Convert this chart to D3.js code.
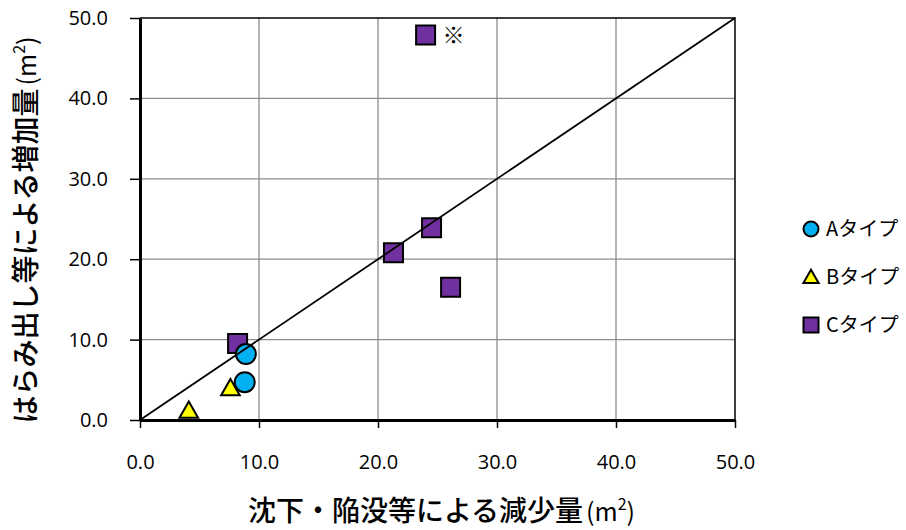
<!DOCTYPE html>
<html>
<head>
<meta charset="utf-8">
<script src="https://cdn.jsdelivr.net/npm/d3@7"></script>
<style>
  body { margin: 0; background: #fff; }
  .tick text { font-family: "Open Sans", sans-serif; font-size: 20px; fill: #000; }
  .grid line { stroke: #8c8c8c; stroke-width: 1.3; }
  .jp { font-family: "Noto Sans CJK JP", sans-serif; }
</style>
</head>
<body>
<div id="chart_area"></div>
<script>
// Data (x = 減少量, y = 増加量, m2)
var typeNames = ["Aタイプ", "Bタイプ", "Cタイプ"];
var typeA_x = [8.9, 8.8];
var typeA_y = [8.2, 4.7];
var typeB_x = [4.1, 7.6];
var typeB_y = [1.2, 4.0];
var typeC_x = [8.2, 21.3, 24.5, 26.1, 24.0];
var typeC_y = [9.5, 20.8, 23.9, 16.5, 47.9];
var tickValues = [0, 10, 20, 30, 40, 50];
var noteMark = "※";   // put beside the C point with the largest y

var frame_width = 906, frame_height = 530;
var margin = {top: 18, right: 171, bottom: 110, left: 140};
var canvas_width = frame_width - margin.left - margin.right;
var canvas_height = frame_height - margin.top - margin.bottom;

var frame = d3.select("#chart_area").append("svg")
  .attr("width", frame_width)
  .attr("height", frame_height);
var canvas = frame.append("g")
  .attr("transform", "translate(" + margin.left + "," + margin.top + ")");

var xScale = d3.scaleLinear().domain([0, 50]).range([0, canvas_width]);
var yScale = d3.scaleLinear().domain([0, 50]).range([canvas_height, 0]);

// grid
var grid = canvas.append("g").attr("class", "grid");
grid.selectAll("line.v").data(tickValues.slice(1, -1)).enter().append("line").attr("class", "v")
  .attr("x1", d => xScale(d)).attr("x2", d => xScale(d))
  .attr("y1", 0).attr("y2", canvas_height);
grid.selectAll("line.h").data(tickValues.slice(1, -1)).enter().append("line").attr("class", "h")
  .attr("x1", 0).attr("x2", canvas_width)
  .attr("y1", d => yScale(d)).attr("y2", d => yScale(d));

// top / right border
canvas.append("path")
  .attr("d", "M0,0H" + canvas_width + "V" + canvas_height)
  .attr("fill", "none").attr("stroke", "#000").attr("stroke-width", 1.5);

// axes
var fmt = d3.format(".1f");
var xAxis = d3.axisBottom(xScale).tickValues(tickValues).tickFormat(fmt)
  .tickSizeInner(8).tickSizeOuter(0).tickPadding(27);
var yAxis = d3.axisLeft(yScale).tickValues(tickValues).tickFormat(fmt)
  .tickSizeInner(10).tickSizeOuter(0).tickPadding(22);

var gx = canvas.append("g").attr("transform", "translate(0," + canvas_height + ")").call(xAxis);
var gy = canvas.append("g").call(yAxis);
[gx, gy].forEach(function(g) {
  g.select(".domain").attr("stroke", "#000").attr("stroke-width", 3);
  g.selectAll(".tick line").attr("stroke", "#000").attr("stroke-width", 1.5);
});

// data
var dataA = typeA_x.map((x, i) => ({x: x, y: typeA_y[i]}));
var dataB = typeB_x.map((x, i) => ({x: x, y: typeB_y[i]}));
var dataC = typeC_x.map((x, i) => ({x: x, y: typeC_y[i]}));

var symSquare = d3.symbol().type(d3.symbolSquare).size(19 * 19);
var symTri = d3.symbol().type(d3.symbolTriangle).size(150);
var symCircle = d3.symbol().type(d3.symbolCircle).size(Math.PI * 10 * 10);

var data_canvas = canvas.append("g");

data_canvas.selectAll(".sq").data(dataC).enter().append("path").attr("class", "sq")
  .attr("d", symSquare)
  .attr("transform", d => "translate(" + xScale(d.x) + "," + yScale(d.y) + ")")
  .attr("fill", "#7030a0").attr("stroke", "#000").attr("stroke-width", 2);

data_canvas.selectAll(".tri").data(dataB).enter().append("path").attr("class", "tri")
  .attr("d", symTri)
  .attr("transform", d => "translate(" + xScale(d.x) + "," + (yScale(d.y) + 2) + ")")
  .attr("fill", "#ffff00").attr("stroke", "#000").attr("stroke-width", 2);

data_canvas.selectAll(".dot").data(dataA).enter().append("path").attr("class", "dot")
  .attr("d", symCircle)
  .attr("transform", d => "translate(" + xScale(d.x) + "," + yScale(d.y) + ")")
  .attr("fill", "#00b0f0").attr("stroke", "#000").attr("stroke-width", 2);

// 1:1 line
canvas.append("line")
  .attr("x1", xScale(0)).attr("y1", yScale(0))
  .attr("x2", xScale(50)).attr("y2", yScale(50))
  .attr("stroke", "#000").attr("stroke-width", 1.8);

// note mark
var topC = dataC.reduce((a, b) => (b.y > a.y ? b : a));
canvas.append("text").attr("class", "jp")
  .attr("x", xScale(topC.x) + 17).attr("y", yScale(topC.y))
  .attr("dy", "0.36em").attr("font-size", 22).text(noteMark);

// legend
var legend = frame.append("g").attr("transform", "translate(811,229)");
var legendSyms = [
  {sym: d3.symbol().type(d3.symbolCircle).size(Math.PI * 7.5 * 7.5), fill: "#00b0f0", dy: 0},
  {sym: d3.symbol().type(d3.symbolTriangle).size(100), fill: "#ffff00", dy: 1.5},
  {sym: d3.symbol().type(d3.symbolSquare).size(15 * 15), fill: "#7030a0", dy: 0}
];
typeNames.forEach(function(name, i) {
  var row = legend.append("g").attr("transform", "translate(0," + (i * 48) + ")");
  row.append("path").attr("d", legendSyms[i].sym)
    .attr("transform", "translate(0," + legendSyms[i].dy + ")")
    .attr("fill", legendSyms[i].fill).attr("stroke", "#000").attr("stroke-width", 2);
  row.append("text").attr("class", "jp")
    .attr("x", 15).attr("dy", "0.36em").attr("font-size", 20).text(name);
});

// axis titles
function addTitle(sel, label) {
  sel.append("tspan").attr("font-size", 28).attr("font-weight", 500).text(label);
  sel.append("tspan").attr("font-size", 25).attr("dx", 3).text("(m");
  sel.append("tspan").attr("font-size", 16).attr("dy", -11).text("2");
  sel.append("tspan").attr("font-size", 25).attr("dy", 11).text(")");
}

var xTitle = frame.append("text").attr("class", "jp")
  .attr("x", margin.left + canvas_width / 2 + 4).attr("y", 521)
  .attr("text-anchor", "middle");
addTitle(xTitle, "沈下・陥没等による減少量");

var yTitle = frame.append("text").attr("class", "jp")
  .attr("transform", "translate(36,230) rotate(-90)")
  .attr("text-anchor", "middle");
addTitle(yTitle, "はらみ出し等による増加量");
</script>
</body>
</html>
